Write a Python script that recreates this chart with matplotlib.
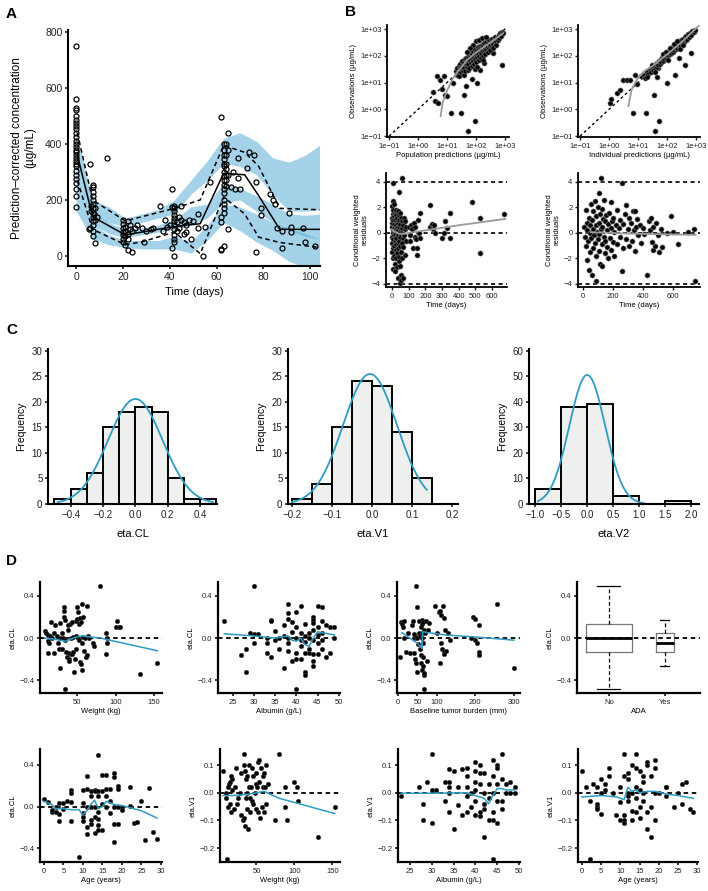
import numpy as np
import matplotlib
matplotlib.use("Agg")
import matplotlib.pyplot as plt

plt.rcParams['font.family'] = ['Liberation Sans', 'DejaVu Sans']

# ---------------- Panel A: VPC ----------------
a_obs = np.array([
    (0, 750), (0, 560), (0, 530), (0, 520), (0, 500), (0, 485), (0, 475), (0, 465), (0, 455), (0, 440),
    (0, 425), (0, 410), (0, 400), (0, 390), (0, 380), (0, 370), (0, 360), (0, 350), (0, 340), (0, 330),
    (0, 320), (0, 305), (0, 290), (0, 275), (0, 260), (0, 240), (0, 215), (0, 175),
    (5.5, 95), (6, 330), (6, 100), (6.5, 160), (6.5, 180), (7, 255), (7, 245), (7, 230), (7, 215), (7, 200),
    (7, 185), (7, 170), (7, 155), (7, 140), (7, 125), (7, 110), (7, 90), (7, 70), (7.5, 150), (8, 45),
    (8, 130), (8, 170), (9, 140), (13, 350),
    (20, 130), (20, 115), (20, 100), (20, 85), (20, 75), (20, 60), (20, 50), (21, 40), (21, 70), (21, 90),
    (21, 105), (22, 125), (22, 80), (22, 60), (22, 20), (23, 95), (23, 110), (24, 15), (24, 90), (25, 100),
    (26, 110), (28, 100), (29, 50), (30, 90), (32, 95), (33, 100), (36, 180), (37, 90), (38, 130), (39, 105),
    (40, 110), (41, 240), (41, 30), (41, 175), (42, 180), (42, 170), (42, 160), (42, 145), (42, 135), (42, 125),
    (42, 110), (42, 95), (42, 75), (42, 60), (42, 50), (42, 0), (43, 120), (43, 90), (44, 140), (44, 100),
    (45, 130), (45, 180), (46, 120), (46, 80), (47, 110), (47, 85), (48, 130), (49, 60), (50, 125), (52, 150),
    (52, 100), (54, 0), (55, 105), (57, 265),
    (62, 495), (63, 400), (63, 380), (63, 360), (63, 345), (63, 330), (63, 320), (63, 300), (63, 285), (63, 270),
    (63, 255), (63, 240), (63, 225), (63, 200), (63, 185), (63, 170), (63, 155), (62, 140), (62, 120), (63, 35),
    (62, 25), (62, 20), (64, 400), (64, 360), (64, 330), (64, 310), (64, 290), (64, 270), (64, 250), (65, 440),
    (65, 380), (65, 290), (65, 95), (66, 245), (67, 300), (68, 240), (69, 350), (69, 280), (70, 240),
    (73, 315), (74, 370), (76, 360), (77, 265), (77, 15), (79, 170), (79, 145), (83, 220), (84, 200), (85, 185),
    (86, 100), (88, 30), (88, 90), (91, 155), (92, 105), (92, 85), (97, 100), (98, 50), (102, 35)])

obs_t = [0.5, 7, 21, 28, 42, 53, 63, 72, 78, 87, 104]
obs_med = [360, 140, 75, 85, 105, 115, 295, 290, 215, 95, 95]
obs_hi = [440, 200, 125, 140, 170, 200, 395, 370, 320, 170, 165]
obs_lo = [270, 95, 40, 50, 85, 8, 210, 150, 67, 48, 30]

band_t = [0, 7, 14, 21, 28, 35, 42, 49, 56, 63, 70, 77, 84, 91, 98, 104]
up_lo = [370, 150, 120, 105, 120, 135, 150, 220, 270, 330, 320, 290, 220, 160, 160, 165]
up_hi = [440, 200, 175, 135, 150, 165, 200, 270, 340, 420, 440, 410, 350, 335, 360, 395]
md_lo = [280, 110, 80, 65, 75, 85, 95, 110, 135, 190, 200, 160, 120, 90, 70, 60]
md_hi = [380, 160, 120, 95, 100, 110, 130, 175, 185, 260, 240, 215, 185, 150, 145, 150]
lw_lo = [160, 60, 40, 30, 25, 25, 25, 10, 55, 120, 90, 50, 20, -20, -40, -50]
lw_hi = [280, 110, 75, 55, 55, 55, 70, 50, 110, 185, 175, 150, 120, 100, 80, 60]

# ---------------- Panel B: GOF ----------------
pop_pairs = np.array([
    (0.53, 0.64), (0.67, 1.26), (0.76, 1.11), (0.82, 0.76), (0.59, 0.33), (0.70, 0.24), (0.90, 1.26), (0.93, 0.55),
    (1.13, -0.13), (1.22, 0.99), (1.47, -0.13), (1.66, 0.89), (1.59, 0.55), (1.74, -0.81), (1.95, -0.44), (2.02, 0.99),
    (2.89, 1.67), (2.60, 2.10), (2.28, 1.73), (2.14, 1.48), (1.00, 0.50), (1.85, 1.15),
    (1.30, 1.45), (1.33, 1.30), (1.36, 1.55), (1.38, 1.40), (1.40, 1.62), (1.42, 1.25), (1.44, 1.50), (1.46, 1.70),
    (1.48, 1.38), (1.50, 1.58), (1.52, 1.80), (1.54, 1.45), (1.55, 1.65), (1.57, 1.30), (1.58, 1.75), (1.60, 1.55),
    (1.62, 1.88), (1.63, 1.42), (1.65, 1.70), (1.66, 1.92), (1.68, 1.58), (1.70, 1.80), (1.71, 1.48), (1.73, 1.95),
    (1.74, 1.68), (1.76, 2.05), (1.77, 1.55), (1.79, 1.85), (1.80, 2.00), (1.82, 1.72), (1.83, 2.10), (1.85, 1.90),
    (1.86, 1.62), (1.88, 2.05), (1.89, 1.80), (1.91, 2.18), (1.92, 1.95), (1.94, 1.70), (1.95, 2.12), (1.97, 1.88),
    (1.98, 2.25), (2.00, 2.02), (2.01, 1.78), (2.03, 2.20), (2.04, 1.95), (2.06, 2.32), (2.07, 2.08), (2.09, 1.85),
    (2.10, 2.25), (2.12, 2.00), (2.13, 2.38), (2.15, 2.15), (2.16, 1.92), (2.18, 2.30), (2.19, 2.10), (2.21, 2.42),
    (2.22, 2.20), (2.24, 2.00), (2.25, 2.35), (2.27, 2.18), (2.28, 2.48), (2.30, 2.28), (2.31, 2.08), (2.33, 2.42),
    (2.35, 2.25), (2.36, 2.52), (2.38, 2.35), (2.40, 2.15), (2.42, 2.48), (2.44, 2.30), (2.46, 2.58), (2.48, 2.40),
    (2.50, 2.22), (2.52, 2.55), (2.54, 2.38), (2.56, 2.62), (2.58, 2.45), (2.60, 2.30), (2.62, 2.60), (2.64, 2.50),
    (2.66, 2.70), (2.68, 2.55), (2.70, 2.40), (2.72, 2.68), (2.75, 2.60), (2.78, 2.78), (2.80, 2.65), (2.83, 2.85),
    (2.86, 2.75), (2.90, 2.90), (2.93, 2.85), (1.90, 2.40), (2.00, 2.55), (2.10, 2.60), (1.80, 2.30), (2.20, 2.65),
    (2.35, 2.70), (1.70, 2.15), (1.95, 1.50), (2.05, 1.60), (2.25, 1.85)])
pop_smooth = np.array([(0.78, -0.25), (0.85, 0.25), (1.0, 0.7), (1.2, 1.15), (1.4, 1.45), (1.7, 1.85),
                       (2.0, 2.12), (2.5, 2.5), (2.95, 2.85)])

ind_pairs = np.array([
    (0.05, 0.24), (0.08, 0.37), (0.28, 0.61), (0.38, 0.71), (0.49, 1.11), (0.61, 1.09), (0.84, -0.13), (0.98, 0.93),
    (1.29, -0.13), (1.54, 0.55), (1.57, -0.81), (1.74, -0.44), (1.99, 0.99), (2.27, 1.30), (2.62, 1.67), (2.83, 2.10),
    (0.72, 1.10), (0.90, 1.30), (1.10, 1.25), (1.70, 1.55), (2.40, 1.90), (1.65, 1.20),
    (1.20, 1.30), (1.25, 1.18), (1.30, 1.38), (1.35, 1.32), (1.40, 1.50), (1.44, 1.40), (1.48, 1.55), (1.52, 1.48),
    (1.55, 1.62), (1.58, 1.52), (1.61, 1.70), (1.64, 1.60), (1.67, 1.75), (1.70, 1.66), (1.72, 1.82), (1.75, 1.70),
    (1.78, 1.88), (1.80, 1.78), (1.83, 1.92), (1.85, 1.82), (1.88, 1.98), (1.90, 1.88), (1.93, 2.05), (1.95, 1.92),
    (1.98, 2.10), (2.00, 1.98), (2.02, 2.12), (2.05, 2.02), (2.07, 2.18), (2.10, 2.08), (2.12, 2.22), (2.15, 2.10),
    (2.17, 2.28), (2.20, 2.15), (2.22, 2.32), (2.25, 2.20), (2.27, 2.38), (2.30, 2.26), (2.32, 2.42), (2.35, 2.30),
    (2.37, 2.46), (2.40, 2.36), (2.43, 2.52), (2.46, 2.40), (2.49, 2.58), (2.52, 2.46), (2.55, 2.64), (2.58, 2.52),
    (2.61, 2.70), (2.64, 2.58), (2.67, 2.74), (2.70, 2.64), (2.73, 2.80), (2.76, 2.70), (2.80, 2.85), (2.84, 2.78),
    (2.88, 2.92), (2.92, 2.88), (2.96, 2.98), (1.60, 1.40), (1.85, 2.05), (2.05, 1.85), (2.25, 2.45), (2.45, 2.25),
    (2.10, 2.30), (1.95, 2.15), (2.35, 2.55), (2.55, 2.40), (1.50, 1.65), (1.30, 1.20)])
ind_smooth = np.array([(0.67, 0.12), (0.78, 0.74), (0.95, 1.1), (1.2, 1.42), (1.5, 1.62), (2.0, 2.05),
                       (2.5, 2.5), (3.1, 3.12)])

res_pop = np.array([
    (0, 0.5), (0, 1.2), (0, -0.3), (0, -1.5), (0, 2.1), (2, 0.8), (2, -0.8), (3, 1.5), (3, -2.0), (4, 0.2),
    (5, 1.8), (5, -1.2), (5, 3.9), (6, 0.0), (7, 2.5), (7, -0.5), (8, 1.0), (8, -2.8), (9, 0.4), (10, -1.0),
    (10, 2.3), (12, 0.7), (12, -0.2), (13, -1.8), (14, 1.3), (15, -0.6), (15, 0.1), (16, -2.4), (17, 1.6), (18, 0.5),
    (18, -3.0), (20, -0.1), (20, 1.0), (21, -1.3), (22, 0.3), (22, 1.8), (23, -0.9), (24, -2.0), (25, 0.6), (25, 1.4),
    (26, -0.4), (28, 0.9), (28, -1.6), (29, 0.0), (30, -2.7), (30, 1.2), (32, 0.4), (33, -0.8), (34, 1.7), (35, -1.2),
    (35, 0.2), (36, -3.5), (38, 0.8), (38, -0.2), (40, 1.4), (40, -1.9), (41, 3.2), (42, 0.5), (42, -0.6), (43, -2.2),
    (44, 1.0), (45, -3.9), (46, 0.1), (47, -1.0), (48, 1.6), (48, -2.6), (50, 0.7), (50, -0.3), (52, -3.3), (53, 1.2),
    (54, -1.5), (55, 0.3), (56, -3.7), (58, -0.8), (58, 0.9), (60, 4.3), (60, -2.0), (62, 0.4), (63, -3.5), (65, -1.1),
    (66, 0.6), (68, -0.4), (70, 1.2), (72, -0.2), (75, -1.7), (78, 0.3), (80, 0.9), (82, -0.6), (85, 0.5),
    (100, 0.5), (105, -0.2), (110, -0.6), (115, 0.6), (120, 0.3), (125, -1.2), (130, 0.8), (135, -0.3), (140, 0.5),
    (145, -0.5), (150, -1.7), (150, -1.2), (155, 1.0), (160, 0.0), (165, 1.6), (170, -0.4), (225, 2.2), (230, 0.5),
    (240, 0.7), (245, 0.3), (250, 0.6), (255, 0.0), (300, -0.4), (310, 0.0), (320, 0.9), (330, 0.4), (345, -0.4),
    (350, 1.6), (480, 2.4), (525, 1.2), (530, -1.55), (670, 1.5)])
res_pop_smooth = np.array([(0, 0.25), (15, 0.1), (40, -0.05), (70, -0.08), (100, 0.0), (200, 0.2), (400, 0.6),
                           (680, 1.1)])

res_ind = np.array([
    (10, 0.5), (15, -0.3), (20, 1.8), (20, -1.0), (25, 0.2), (30, -2.1), (30, 0.8), (35, -0.6), (40, 1.2), (40, -2.9),
    (45, 0.0), (50, -1.5), (50, 0.6), (55, 2.3), (55, -0.4), (60, -3.3), (60, 1.0), (65, 0.3), (70, -1.2), (70, 1.7),
    (75, -0.2), (80, 2.5), (80, -0.8), (85, 0.6), (85, -1.8), (90, 1.3), (90, -3.8), (95, 0.1), (100, -0.5), (100, 2.0),
    (105, 3.1), (105, -1.4), (110, 0.8), (110, -0.1), (115, 1.5), (115, -2.4), (120, 4.3), (120, 0.3), (125, -0.9),
    (125, 1.9), (130, -2.6), (130, 0.5), (135, 1.1), (140, -0.3), (140, 2.6), (145, -1.6), (150, 0.9), (150, -0.6),
    (155, 1.4), (160, -1.1), (160, 0.2), (170, 0.7), (170, -2.0), (175, 1.6), (180, -0.4), (185, 0.4), (190, 2.4),
    (190, -1.3), (195, 0.9), (200, -0.7), (200, 1.2), (210, 0.1), (210, -1.8), (220, 0.6), (230, 1.8), (230, -0.9),
    (240, 0.4), (250, -0.3), (250, 1.0), (260, -3.0), (260, 3.9), (265, 0.7), (270, -1.2), (280, 1.5), (290, 2.2),
    (290, -0.5), (300, 0.3), (310, -1.0), (310, 1.2), (320, 0.8), (330, -0.6), (335, 1.7), (340, 0.2), (345, 1.7),
    (350, -1.4), (355, 0.5), (360, 1.1), (370, -0.2), (380, 0.6), (390, -0.8), (400, 0.4), (410, -0.1), (430, -3.3),
    (440, 0.9), (450, 0.2), (455, 1.2), (460, -0.7), (465, -1.3), (470, 0.5), (480, -1.0), (490, 0.8), (500, -0.2),
    (510, -1.5), (520, 0.3), (530, -1.1), (560, 0.0), (590, 1.3), (600, 0.1), (635, -0.9), (700, 0.1), (740, 0.3),
    (750, -3.8)])
res_ind_smooth = np.array([(50, 0.05), (150, 0.02), (300, -0.05), (500, -0.1), (750, -0.15)])

# ---------------- Panel C: eta histograms ----------------
hist_names = ['eta.CL', 'eta.V1', 'eta.V2']
hist_edges = [[-0.5, -0.4, -0.3, -0.2, -0.1, 0.0, 0.1, 0.2, 0.3, 0.4, 0.5],
              [-0.2, -0.15, -0.1, -0.05, 0.0, 0.05, 0.1, 0.15],
              [-1.0, -0.5, 0.0, 0.5, 1.0, 1.5, 2.0]]
hist_counts = [[1, 3, 6, 15, 18, 19, 18, 5, 1, 1],
               [1, 4, 15, 24, 23, 14, 5],
               [6, 38, 39, 3, 0, 1]]
hist_mean = [0.0, -0.005, 0.0]
hist_sd = [0.169, 0.0675, 0.344]
hist_curve_range = [(-0.48, 0.48), (-0.2, 0.137), (-0.95, 1.1)]
hist_xlim = [(-0.54, 0.505), (-0.21, 0.215), (-1.12, 2.15)]
hist_ylim = [30, 30, 60]
hist_xticks = [[-0.4, -0.2, 0.0, 0.2, 0.4], [-0.2, -0.1, 0.0, 0.1, 0.2],
               [-1.0, -0.5, 0.0, 0.5, 1.0, 1.5, 2.0]]

# ---------------- Panel D: covariates ----------------
cl_weight = np.array([
    (8, .07), (10, .05), (12, .03), (13, -.03), (14, -.05), (15, .02), (12, -.14), (16, .15), (18, 0), (20, .05),
    (20, -.14), (22, .12), (24, .02), (25, -.05), (27, -.1), (28, .14), (28, 0), (28, -.28), (30, -.1), (30, .05),
    (32, 0), (33, .29), (33, .26), (33, .2), (34, .17), (34, -.48), (35, -.02), (36, -.13), (37, -.18), (38, .12),
    (38, .08), (39, -.2), (40, -.22), (40, -.14), (41, .13), (42, 0), (42, -.15), (43, -.15), (44, .15), (45, .01),
    (45, -.13), (46, -.32), (47, -.2), (48, .16), (48, -.1), (49, .02), (50, .29), (50, .18), (51, .25), (51, 0),
    (52, -.02), (53, .13), (54, .19), (54, -.23), (55, -.25), (55, .15), (56, .32), (57, -.05), (57, -.3), (58, .2),
    (58, .01), (59, -.12), (60, 0), (62, -.18), (63, .3), (63, -.16), (64, .02), (66, 0), (70, -.05), (72, -.08),
    (80, .49), (88, -.15), (88, .05), (89, -.05), (89, 0), (100, .1), (102, .16), (104, .1), (105, .1), (131, -.34),
    (154, -.24)])
cl_weight_fit = np.array([(8, 0.0), (20, -0.01), (35, -0.03), (45, 0.0), (55, 0.02), (80, 0.0), (154, -0.12)])

cl_alb = np.array([
    (23, .16), (27, -.16), (28, -.1), (28, -.32), (29, .05), (30, .49), (30, .04), (30, -.05), (31, .04), (33, 0),
    (33, -.05), (33, -.14), (34, .17), (34, .16), (34, -.18), (35, .07), (35, -.02), (36, 0), (36, -.1), (37, .12),
    (37, -.28), (37, .02), (38, .32), (38, .24), (38, .18), (38, 0), (38, -.05), (38, -.12), (39, .06), (39, -.22),
    (39, .15), (40, .25), (40, .1), (40, 0), (40, -.14), (40, -.2), (40, -.48), (41, .3), (41, .05), (41, -.02),
    (41, -.08), (41, -.2), (42, .13), (42, .02), (42, -.04), (42, -.14), (42, -.32), (42, -.35), (43, .05), (43, -.1),
    (43, 0), (43, -.14), (44, .2), (44, .17), (44, .14), (44, .08), (44, -.02), (44, -.15), (44, -.22), (44, -.26),
    (45, .3), (45, .1), (45, .03), (45, -.05), (45, -.15), (46, .29), (46, .16), (46, .05), (46, -.02), (46, -.1),
    (47, .12), (47, -.18), (48, .1), (48, -.14), (49, .1), (49, 0)])
cl_alb_fit = np.array([(23, .04), (30, .02), (35, 0), (38, .02), (39, -.02), (40, -.03), (41, 0), (42, -.06),
                       (43, -.08), (44, 0), (45, .06), (46, .05), (49, .03)])

cl_tumor = np.array([
    (5, -.18), (8, .15), (10, .13), (12, .1), (14, 0), (15, .16), (20, -.13), (25, .05), (30, -.14), (35, .12),
    (38, .16), (40, 0), (40, -.14), (42, .04), (44, -.2), (45, .49), (46, -.24), (47, .01), (48, -.32), (50, .29),
    (50, 0), (52, -.06), (54, .16), (55, .05), (56, -.1), (57, .02), (58, -.16), (60, .1), (60, -.24), (61, .13),
    (62, 0), (62, -.3), (63, .17), (63, .05), (64, -.05), (64, -.18), (65, .15), (65, -.26), (66, -.35), (66, -.33),
    (67, -.48), (68, .08), (70, .05), (72, .16), (74, -.22), (78, .08), (80, .14), (95, .3), (100, .05), (106, .25),
    (108, .26), (108, -.24), (110, .22), (112, -.05), (115, -.1), (117, .3), (118, .19), (119, -.15), (120, -.12),
    (122, .08), (125, -.12), (130, .05), (135, -.02), (190, 0), (195, .2), (198, .18), (200, -.02), (205, -.05),
    (210, .12), (210, -.13), (210, -.16), (257, .32), (300, -.28)])
cl_tumor_fit = np.array([(10, .05), (30, 0), (50, -.05), (62, -.1), (63, .06), (80, .05), (120, .03), (200, .01),
                         (300, -.02)])

ada_groups = ['No', 'Yes']
ada_med = [0.005, -0.05]
ada_q1 = [-0.135, -0.13]
ada_q3 = [0.13, 0.045]
ada_lo = [-0.48, -0.26]
ada_hi = [0.49, 0.17]

cl_age = np.array([
    (0, .07), (1, .04), (2, -.05), (2, -.03), (3, 0), (3, -.05), (4, .03), (4, -.07), (4, -.14), (5, .03),
    (5, -.02), (6, .05), (7, .16), (7, .13), (7, .04), (7, -.14), (9, -.48), (10, .16), (10, .03), (10, -.06),
    (10, -.1), (10, -.14), (11, .29), (11, .17), (11, 0), (11, -.2), (11, -.26), (12, .15), (12, .1), (12, 0),
    (12, -.13), (12, -.17), (13, .16), (13, .15), (13, 0), (13, -.1), (13, -.25), (14, .49), (14, .15), (14, .1),
    (14, -.05), (14, -.12), (14, -.18), (14, -.22), (15, .3), (15, .15), (15, .02), (15, -.22), (16, .3), (16, .17),
    (16, .1), (16, 0), (17, .17), (17, -.06), (17, .05), (18, .32), (18, .28), (18, 0), (18, -.34), (18, -.17),
    (19, .2), (19, .17), (19, 0), (19, -.17), (20, 0), (20, -.03), (22, .19), (22, .01), (23, -.16), (24, -.15),
    (25, .05), (26, -.32), (27, .18), (28, -.24), (29, -.31)])
cl_age_fit = np.array([(0, .05), (2, .02), (3, -.02), (5, -.02), (7, -.03), (9, -.03), (10, -.08), (11, -.04),
                       (12, .02), (13, .06), (14, -.02), (15, 0), (16, .05), (18, .02), (20, .01), (25, -.04),
                       (29, -.11)])

v1_weight = np.array([
    (6, .08), (10, 0), (10, -.02), (11, -.24), (12, -.05), (13, .02), (14, .03), (15, .04), (15, -.04), (16, -.07),
    (17, .06), (18, .05), (18, .01), (20, -.06), (22, .02), (23, .09), (25, -.04), (26, -.02), (28, 0), (30, .07),
    (30, -.08), (32, -.1), (33, -.09), (34, .14), (34, .1), (35, .08), (35, -.12), (36, .05), (36, -.02), (37, 0),
    (38, -.06), (38, .06), (39, -.13), (40, .1), (40, .02), (41, -.07), (42, -.02), (43, .02), (44, .09), (44, -.03),
    (45, .06), (46, -.04), (48, 0), (49, .03), (50, .07), (50, -.06), (51, .02), (52, .11), (52, -.07), (53, .12),
    (54, .04), (55, -.09), (56, .09), (57, -.05), (58, .02), (59, .06), (60, .07), (60, -.07), (61, .02), (62, .1),
    (63, -.04), (65, .03), (74, -.1), (80, .14), (88, .02), (88, -.05), (90, -.1), (100, .04), (104, .02),
    (105, -.03), (131, -.16), (153, -.05)])
v1_weight_fit = np.array([(6, -.01), (20, -.01), (40, -.005), (60, .005), (80, -.02), (100, -.035), (153, -.075)])

v1_alb = np.array([
    (23, -.01), (27, .02), (28, -.04), (28, -.1), (29, .04), (30, .14), (30, .01), (30, -.11), (31, .01), (33, .04),
    (33, -.03), (34, .04), (34, .02), (34, 0), (34, -.07), (34, .085), (35, .08), (35, -.13), (36, .02), (36, -.045),
    (37, .085), (37, -.08), (38, .09), (38, .06), (38, .02), (38, -.01), (38, -.07), (39, 0), (39, -.05), (40, .11),
    (40, .08), (40, .04), (40, .01), (40, -.03), (40, -.08), (41, .1), (41, .07), (41, .03), (41, -.07), (41, -.085),
    (42, .07), (42, 0), (42, -.04), (42, -.06), (42, -.16), (43, .03), (43, -.02), (43, -.1), (44, .12), (44, .06),
    (44, 0), (44, -.07), (44, -.1), (44, -.24), (45, .1), (45, .09), (45, .03), (45, -.03), (45, -.11), (46, .14),
    (46, .05), (46, -.03), (46, -.06), (47, 0), (47, .03), (48, .04), (48, 0), (49, .02), (49, 0)])
v1_alb_fit = np.array([(23, -.002), (30, -.002), (38, 0), (40, -.01), (42, -.02), (43, -.04), (44, -.01),
                       (45, .015), (46, .015), (47, .01), (49, .01)])

v1_age = np.array([
    (0, .08), (1, .02), (2, -.24), (2, -.03), (3, .03), (4, .02), (4, -.04), (4, -.05), (4, -.06), (5, .05),
    (5, 0), (5, -.075), (6, .03), (6, .01), (7, .09), (7, .06), (8, 0), (9, -.08), (10, .02), (10, -.035),
    (10, -.1), (11, .14), (11, .06), (11, -.08), (11, -.1), (11, -.11), (12, .07), (12, .05), (12, 0), (12, -.01),
    (12, -.03), (13, .1), (13, 0), (13, -.1), (13, -.065), (14, .14), (14, .09), (14, .02), (14, -.07), (14, -.02),
    (15, .08), (15, .01), (15, -.05), (15, -.09), (16, .06), (16, .04), (16, 0), (16, -.03), (17, .11), (17, .1),
    (17, -.07), (17, -.13), (18, .06), (18, -.05), (18, -.16), (19, .12), (19, .09), (19, 0), (19, -.1), (20, 0),
    (22, .02), (22, .02), (22, -.01), (24, -.05), (25, 0), (26, .03), (26, -.04), (27, .04), (28, -.06), (29, -.07)])
v1_age_fit = np.array([(0, -.015), (5, -.01), (9, -.015), (10, -.02), (11, -.025), (11.5, 0), (12, .02),
                       (13, .005), (14, .01), (15, 0), (17, .005), (19, .005), (22, -.005), (25, -.01), (29, -.02)])

# ---------------- drawing ----------------
BLUE = '#2e9cc4'
BAND = '#5aaed8'
W, H = 708, 891

fig = plt.figure(figsize=(W / 100, H / 100), dpi=100)


def rect(l, t, r, b):
    return [l / W, 1 - b / H, (r - l) / W, (b - t) / H]


def style(ax, fs, lw=1.3):
    ax.spines['top'].set_visible(False)
    ax.spines['right'].set_visible(False)
    ax.spines['left'].set_linewidth(lw)
    ax.spines['bottom'].set_linewidth(lw)
    ax.tick_params(labelsize=fs, width=lw * 0.8, length=2.5, pad=1.5, colors='#222222')
    ax.patch.set_alpha(0)


# A
ax = fig.add_axes(rect(68, 30, 320, 266))
style(ax, 7.5, 1.5)
for lo, hi in [(up_lo, up_hi), (md_lo, md_hi), (lw_lo, lw_hi)]:
    ax.fill_between(band_t, lo, hi, color=BAND, alpha=0.55, lw=0)
ax.plot(obs_t, obs_med, color='k', lw=1.1)
ax.plot(obs_t, obs_hi, color='k', lw=1.1, dashes=(3, 2.2))
ax.plot(obs_t, obs_lo, color='k', lw=1.1, dashes=(3, 2.2))
ax.plot(a_obs[:, 0], a_obs[:, 1], 'o', mfc='none', mec='k', ms=3.6, mew=0.9)
ax.set_xlim(-3.5, 104.2)
ax.set_ylim(-36, 807)
ax.set_xticks([0, 20, 40, 60, 80, 100])
ax.set_yticks([0, 200, 400, 600, 800])
ax.set_xlabel('Time (days)', fontsize=8, labelpad=4)
ax.set_ylabel('Prediction\u2013corrected concentration\n(\u00b5g/mL)', fontsize=8.5, labelpad=6)

# B top
log_ticks = [0.1, 1, 10, 100, 1000]
log_labels = ['1e\u221201', '1e+00', '1e+01', '1e+02', '1e+03']
for l, r, pairs, smooth, xlab in [(387, 509, pop_pairs, pop_smooth, 'Population predictions (\u00b5g/mL)'),
                                  (578, 700, ind_pairs, ind_smooth, 'Individual predictions (\u00b5g/mL)')]:
    ax = fig.add_axes(rect(l, 25, r, 137))
    style(ax, 5.5, 1.3)
    ax.set_xscale('log')
    ax.set_yscale('log')
    ax.plot([0.1, 1100], [0.1, 1100], color='k', lw=1.0, dashes=(2, 2))
    ax.scatter(10 ** pairs[:, 0], 10 ** pairs[:, 1], s=14, c='k', edgecolors='#888888', linewidths=0.4, zorder=3)
    ax.plot(10 ** smooth[:, 0], 10 ** smooth[:, 1], color='#9a9a9a', lw=1.3, zorder=4)
    ax.set_xlim(10 ** -1.07, 10 ** 3.14)
    ax.set_ylim(10 ** -1.03, 10 ** 3.15)
    ax.set_xticks(log_ticks)
    ax.set_xticklabels(log_labels)
    ax.set_yticks(log_ticks)
    ax.set_yticklabels(log_labels)
    ax.minorticks_off()
    ax.set_xlabel(xlab, fontsize=5.5, labelpad=2)
    ax.set_ylabel('Observations (\u00b5g/mL)', fontsize=5.5, labelpad=2)

# B bottom
for l, r, pts, smooth, xmax, xt in [(386, 507, res_pop, res_pop_smooth, 690, [0, 100, 200, 300, 400, 500, 600]),
                                    (578, 700, res_ind, res_ind_smooth, 780, [0, 200, 400, 600])]:
    ax = fig.add_axes(rect(l, 173, r, 287))
    style(ax, 5.5, 1.3)
    for yv in [-4, 0, 4]:
        ax.axhline(yv, color='k', lw=1.2, dashes=(2.5, 2))
    ax.scatter(pts[:, 0], pts[:, 1], s=14, c='k', edgecolors='#888888', linewidths=0.4, zorder=3)
    ax.plot(smooth[:, 0], smooth[:, 1], color='#9a9a9a', lw=1.3, zorder=4)
    ax.set_xlim(-36 if xmax < 700 else -33, xmax)
    ax.set_ylim(-4.24, 4.7)
    ax.set_xticks(xt)
    ax.set_yticks([-4, -2, 0, 2, 4])
    ax.set_yticklabels(['\u22124', '\u22122', '0', '2', '4'])
    ax.set_xlabel('Time (days)', fontsize=5.5, labelpad=2)
    ax.set_ylabel('Conditional weighted\nresiduals', fontsize=5.5, labelpad=2)

# C
for i, (l, r) in enumerate([(48, 217), (288, 458), (529, 699)]):
    ax = fig.add_axes(rect(l, 349, r, 504))
    style(ax, 7, 1.5)
    e = np.array(hist_edges[i])
    ax.bar(e[:-1], hist_counts[i], width=np.diff(e), align='edge', color='#eef0ee', edgecolor='k', lw=1.4)
    w = e[1] - e[0]
    n = sum(hist_counts[i])
    xs = np.linspace(hist_curve_range[i][0], hist_curve_range[i][1], 200)
    ys = n * w / (np.sqrt(2 * np.pi) * hist_sd[i]) * np.exp(-0.5 * ((xs - hist_mean[i]) / hist_sd[i]) ** 2)
    ax.plot(xs, ys, color=BLUE, lw=1.3)
    ax.set_xlim(*hist_xlim[i])
    ax.set_ylim(0, hist_ylim[i] * 1.01)
    ax.set_yticks(np.arange(0, hist_ylim[i] + 1, hist_ylim[i] // 6))
    ax.set_xticks(hist_xticks[i])
    ax.set_xticklabels([f'{v:.1f}'.replace('-', '\u2212') for v in hist_xticks[i]])
    ax.set_xlabel(hist_names[i], fontsize=8, labelpad=7)
    ax.set_ylabel('Frequency', fontsize=7.5, labelpad=4)

# D
cl_ticks = [-0.4, 0.0, 0.4]
v1_ticks = [-0.2, -0.1, 0.0, 0.1]


def cov_panel(l, t, r, b, pts, fit, xlim, xticks, ylim, yticks, xlab, ylab):
    ax = fig.add_axes(rect(l, t, r, b))
    style(ax, 5.5, 1.6)
    ax.axhline(0, color='k', lw=1.3, dashes=(2.5, 2))
    ax.scatter(pts[:, 0], pts[:, 1], s=11, c='k', edgecolors='#444444', linewidths=0.3, zorder=3)
    ax.plot(fit[:, 0], fit[:, 1], color=BLUE, lw=1.1, zorder=4)
    ax.set_xlim(*xlim)
    ax.set_ylim(*ylim)
    ax.set_xticks(xticks)
    ax.set_yticks(yticks)
    ax.set_yticklabels([f'{v:.1f}'.replace('-', '\u2212') for v in yticks])
    ax.set_xlabel(xlab, fontsize=5.5, labelpad=2)
    ax.set_ylabel(ylab, fontsize=5.5, labelpad=2)
    return ax


cov_panel(40, 582, 162, 693, cl_weight, cl_weight_fit, (2, 160), [50, 100, 150], (-0.52, 0.53), cl_ticks,
          'Weight (kg)', 'eta.CL')
cov_panel(218, 582, 340, 693, cl_alb, cl_alb_fit, (21.5, 50.3), [25, 30, 35, 40, 45, 50], (-0.52, 0.53), cl_ticks,
          'Albumin (g/L)', 'eta.CL')
cov_panel(397, 582, 520, 693, cl_tumor, cl_tumor_fit, (-3, 316), [0, 50, 100, 200, 300], (-0.52, 0.53), cl_ticks,
          'Baseline tumor burden (mm)', 'eta.CL')

ax = fig.add_axes(rect(577, 582, 700, 693))
style(ax, 5.5, 1.6)
ax.axhline(0, color='k', lw=1.3, dashes=(2.5, 2), zorder=5)
stats = [dict(med=ada_med[i], q1=ada_q1[i], q3=ada_q3[i], whislo=ada_lo[i], whishi=ada_hi[i], label=ada_groups[i])
         for i in range(2)]
ax.bxp(stats, positions=[1, 2], widths=[0.83, 0.32], showfliers=False,
       boxprops=dict(color='#777777', lw=0.9),
       whiskerprops=dict(color='k', lw=0.9, ls=(0, (3, 2))),
       capprops=dict(color='k', lw=0.9),
       medianprops=dict(color='k', lw=2.0))
ax.set_xlim(0.43, 2.63)
ax.set_ylim(-0.52, 0.53)
ax.set_yticks(cl_ticks)
ax.set_yticklabels([f'{v:.1f}'.replace('-', '\u2212') for v in cl_ticks])
ax.set_xlabel('ADA', fontsize=5.5, labelpad=2)
ax.set_ylabel('eta.CL', fontsize=5.5, labelpad=2)

cov_panel(40, 749, 162, 862, cl_age, cl_age_fit, (-1, 30.3), [0, 5, 10, 15, 20, 25, 30], (-0.53, 0.55), cl_ticks,
          'Age (years)', 'eta.CL')
cov_panel(220, 749, 340, 862, v1_weight, v1_weight_fit, (2, 160), [50, 100, 150], (-0.25, 0.158), v1_ticks,
          'Weight (kg)', 'eta.V1')
cov_panel(398, 749, 520, 862, v1_alb, v1_alb_fit, (22.3, 50.2), [25, 30, 35, 40, 45, 50], (-0.25, 0.158), v1_ticks,
          'Albumin (g/L)', 'eta.V1')
cov_panel(578, 749, 698, 862, v1_age, v1_age_fit, (-1, 30.2), [0, 5, 10, 15, 20, 25, 30], (-0.25, 0.158), v1_ticks,
          'Age (years)', 'eta.V1')

for lab, x, y in [('A', 6, 14), ('B', 345, 12), ('C', 6, 330), ('D', 6, 561)]:
    fig.text(x / W, 1 - y / H, lab, fontsize=11, fontweight='bold', va='center')

fig.savefig('out.png', dpi=100)
